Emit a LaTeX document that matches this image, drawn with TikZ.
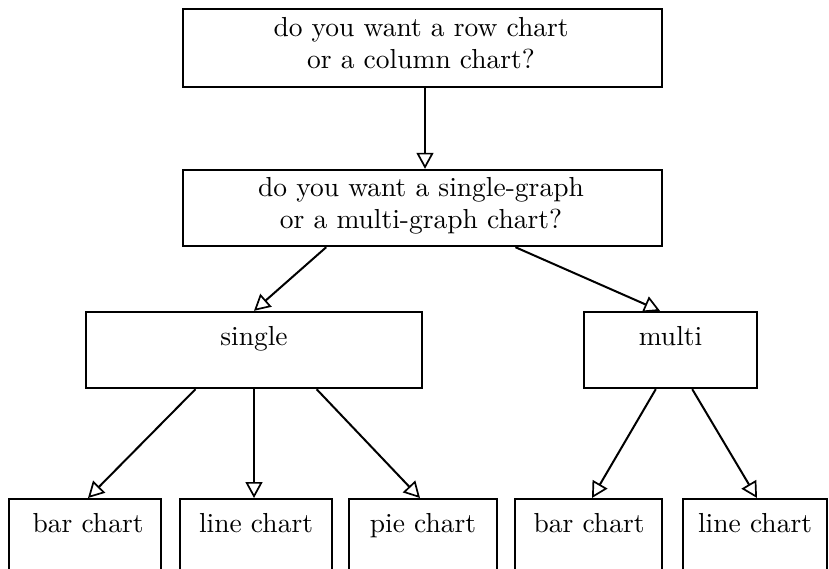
\documentclass[tikz,border=0pt]{standalone}
\usepackage{fontspec}
\setmainfont{lmroman10-regular}[Extension=.otf]
\usetikzlibrary{arrows.meta,calc}
\begin{document}
\begin{tikzpicture}[x=1pt,y=-1pt,
  box/.style={draw, line width=2.4pt, rectangle, inner sep=0pt},
  txt/.style={inner sep=0pt, font=\fontsize{27.5}{32}\selectfont, align=center},
  conn/.style={line width=2pt, -{Triangle[open, length=16pt, width=17pt, line width=1.7pt]}}]
\clip (0,0) rectangle (829,569);
\fill[white] (0,0) rectangle (829,569);
% boxes
\node[box, minimum width=479pt, minimum height=78pt] (top) at (422.5,48) {};
\node[box, minimum width=479pt, minimum height=76pt] (q) at (422.5,208) {};
\node[box, minimum width=336pt, minimum height=76pt] (single) at (254,350) {};
\node[box, minimum width=173pt, minimum height=76pt] (multi) at (670.5,350) {};
\node[box, minimum width=152pt, minimum height=110pt, anchor=north] (bar1) at (85,498) {};
\node[box, minimum width=152pt, minimum height=110pt, anchor=north] (line1) at (256,498) {};
\node[box, minimum width=148pt, minimum height=110pt, anchor=north] (pie) at (423,498) {};
\node[box, minimum width=147pt, minimum height=110pt, anchor=north] (bar2) at (588.5,498) {};
\node[box, minimum width=144pt, minimum height=110pt, anchor=north] (line2) at (755,498) {};
% texts
\node[txt, anchor=north] (toptext) at (421,17) {do you want a row chart\\or a column chart?};
\node[txt, anchor=north] (qtext) at (421,177) {do you want a single-graph\\or a multi-graph chart?};
\node[txt, anchor=base] (singletext) at (254,345) {single};
\node[txt, anchor=base] (multitext) at (670.5,345) {multi};
\node[txt, anchor=base] (bar1text) at (88,532) {bar chart};
\node[txt, anchor=base] (line1text) at (256,532) {line chart};
\node[txt, anchor=base] (pietext) at (423,532) {pie chart};
\node[txt, anchor=base] (bar2text) at (589,532) {bar chart};
\node[txt, anchor=base] (line2text) at (755,532) {line chart};
% connectors
\draw[conn] ($(top.south)+(2.5,0)$) -- ($(q.north)+(2.5,0)$);
\draw[conn] ($(q.south west)!0.3!(q.south east)$) -- (single.north);
\draw[conn] ($(q.south west)!0.693!(q.south east)$) -- ($(multi.north west)!0.44!(multi.north east)$);
\draw[conn] ($(single.south west)!0.327!(single.south east)$) -- ($(bar1.north)+(3,0)$);
\draw[conn] (single.south) -- (single.south |- line1.north);
\draw[conn] ($(single.south west)!0.685!(single.south east)$) -- ($(pie.north)+(-3,0)$);
\draw[conn] ($(multi.south west)!0.416!(multi.south east)$) -- ($(bar2.north)+(3.5,0)$);
\draw[conn] ($(multi.south west)!0.624!(multi.south east)$) -- ($(line2.north)+(2,0)$);
\end{tikzpicture}
\end{document}
